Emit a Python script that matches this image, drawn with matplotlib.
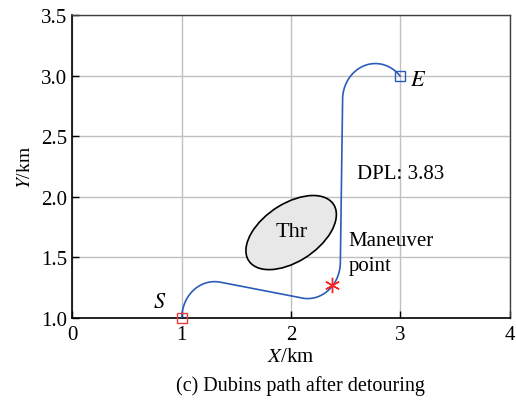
import numpy as np
import matplotlib
matplotlib.use("Agg")
from matplotlib import pyplot as plt
from matplotlib.patches import Ellipse

plt.rcParams['font.family'] = ['Liberation Serif', 'DejaVu Serif']
plt.rcParams['mathtext.fontset'] = 'stix'

# path pieces (km): turning arcs and tangent points
turn_radius = 0.3
arc_centers = [(1.30, 1.00), (2.15, 1.46), (2.77, 2.80)]
arc_angles = [(180.0, 80.2), (-99.8, -1.2), (178.8, 41.0)]  # start -> end, degrees

start_pt = (1.0, 1.0)
end_pt = (3.0, 3.0)
maneuver_pt = (2.37, 1.27)

threat_center = (2.0, 1.705)
threat_axes = (0.906, 0.488)
threat_angle = 28.9

xticks = [0, 1, 2, 3, 4]
yticks = [1.0, 1.5, 2.0, 2.5, 3.0, 3.5]
dpl = 3.83

fs = 15


def arc_points(center, r, a0, a1, n=80):
    t = np.radians(np.linspace(a0, a1, n))
    return center[0] + r * np.cos(t), center[1] + r * np.sin(t)


fig = plt.figure(figsize=(5.16, 4.02), dpi=100)
ax = fig.add_axes([0.1405, 0.2065, 0.8475, 0.7535])

xs, ys = [], []
for c, (a0, a1) in zip(arc_centers, arc_angles):
    x, y = arc_points(c, turn_radius, a0, a1)
    xs.extend(x)
    ys.extend(y)
ax.plot(xs, ys, color='#2a5cb8', lw=1.2, zorder=3)

ax.add_patch(Ellipse(threat_center, threat_axes[0], threat_axes[1], angle=threat_angle,
                     facecolor='#e8e8e8', edgecolor='black', lw=1.2, zorder=2))
ax.text(threat_center[0], threat_center[1] + 0.01, 'Thr', fontsize=fs + 1,
        ha='center', va='center', zorder=4)

ax.plot(*start_pt, marker='s', ms=7, mfc='none', mec='#e8383d', mew=1.0,
        zorder=5, clip_on=False)
ax.plot(*end_pt, marker='s', ms=7, mfc='none', mec='#2a5cb8', mew=1.0, zorder=5)
ax.plot(*maneuver_pt, marker=(6, 2, 0), ms=11, mec='#ff2020', mew=1.0, zorder=5)

ax.text(0.80, 1.13, '$S$', fontsize=fs + 1, ha='center', va='center')
ax.text(3.16, 2.96, '$E$', fontsize=fs + 1, ha='center', va='center')
ax.text(2.60, 2.19, 'DPL: %.2f' % dpl, fontsize=fs, ha='left', va='center')
ax.text(2.525, 1.535, 'Maneuver\npoint', fontsize=fs, ha='left', va='center',
        linespacing=1.4)

ax.set_xlim(0, 4)
ax.set_ylim(1.0, 3.5)
ax.set_xticks(xticks)
ax.set_yticks(yticks)
ax.set_xticklabels([str(v) for v in xticks])
ax.set_yticklabels(['%.1f' % v for v in yticks])
ax.grid(True, color='#c0c0c0', lw=1.0)
ax.set_axisbelow(True)
ax.tick_params(direction='in', length=5, width=1.0, labelsize=fs,
               top=False, right=False, pad=4)
ax.tick_params(axis='x', pad=5)

for side in ['left', 'bottom']:
    ax.spines[side].set_linewidth(1.2)
for side in ['top', 'right']:
    ax.spines[side].set_linewidth(1.0)
    ax.spines[side].set_color('#404040')

ax.set_xlabel('$X$/km', fontsize=fs, labelpad=2)
ax.set_ylabel('$Y$/km', fontsize=fs - 1, labelpad=5)
fig.text(0.583, 0.04, '(c) Dubins path after detouring', fontsize=fs - 0.5,
         ha='center', va='center')

fig.savefig('out.png', dpi=100)
